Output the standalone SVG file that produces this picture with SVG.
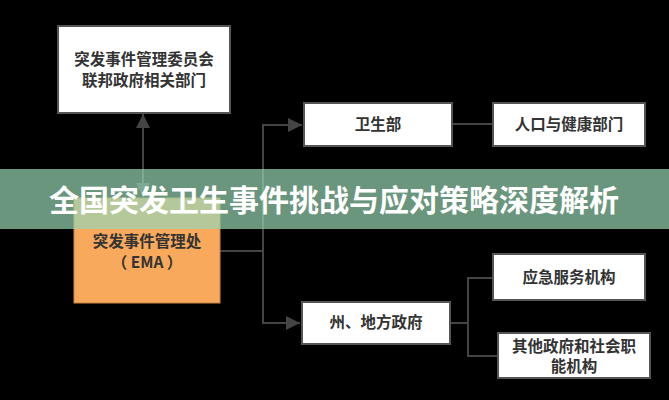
<svg xmlns="http://www.w3.org/2000/svg" width="669" height="400" viewBox="0 0 669 400">
<style>
.box{fill:#ffffff;stroke:#555555;stroke-width:2}
.org{fill:#f8a95c;stroke:#c98540;stroke-width:1}
.lbl{font-family:"Noto Sans CJK SC","Noto Sans",sans-serif;font-weight:bold;font-size:15.5px;fill:#333333;text-anchor:middle}
.ln{fill:none;stroke:#444444;stroke-width:2}
.title{font-family:"Noto Sans CJK SC","Noto Sans",sans-serif;font-weight:bold;font-size:30px;fill:#ffffff;text-anchor:middle}
</style>
<defs>
<marker id="ah" viewBox="0 0 10 10" refX="10" refY="5" markerWidth="7" markerHeight="7" orient="auto-start-reverse" markerUnits="strokeWidth">
<path d="M0,0 L10,5 L0,10 z" fill="#444444"/>
</marker>
</defs>
<rect x="0" y="0" width="669" height="400" fill="#000000"/>
<g id="connectors">
<line class="ln" x1="143" y1="114" x2="143" y2="197" marker-start="url(#ah)" marker-end="url(#ah)"/>
<polyline class="ln" points="220,251 263,251"/>
<polyline class="ln" points="263,323 263,125 302,125" marker-end="url(#ah)"/>
<polyline class="ln" points="263,300 263,323 300,323" marker-end="url(#ah)"/>
<line class="ln" x1="452" y1="124" x2="493" y2="124"/>
<polyline class="ln" points="450,323 468,323"/>
<polyline class="ln" points="493,278 468,278 468,356 498,356"/>
</g>
<g id="n_top">
<rect class="box" x="58" y="26" width="172" height="87"/>
<text class="lbl" x="144" y="65">突发事件管理委员会</text>
<text class="lbl" x="144" y="86">联邦政府相关部门</text>
</g>
<g id="n_ema">
<rect class="org" x="74" y="198" width="146" height="105"/>
<text class="lbl" x="147" y="247">突发事件管理处</text>
<text class="lbl" x="147" y="268">（ EMA ）</text>
</g>
<g id="n_health">
<rect class="box" x="304" y="103" width="148" height="43"/>
<text class="lbl" x="378" y="130">卫生部</text>
</g>
<g id="n_pop">
<rect class="box" x="493" y="103" width="152" height="43"/>
<text class="lbl" x="569" y="130">人口与健康部门</text>
</g>
<g id="n_state">
<rect class="box" x="302" y="302" width="148" height="42"/>
<text class="lbl" x="376" y="328">州、地方政府</text>
</g>
<g id="n_emerg">
<rect class="box" x="493" y="254" width="152" height="46"/>
<text class="lbl" x="569" y="283">应急服务机构</text>
</g>
<g id="n_other">
<rect class="box" x="498" y="333" width="152" height="45"/>
<text class="lbl" x="574" y="352">其他政府和社会职</text>
<text class="lbl" x="574" y="372">能机构</text>
</g>
<g id="banner">
<rect x="0" y="169" width="669" height="60" fill="#97d6b4" fill-opacity="0.7"/>
<text class="title" x="334" y="211">全国突发卫生事件挑战与应对策略深度解析</text>
</g>
</svg>
